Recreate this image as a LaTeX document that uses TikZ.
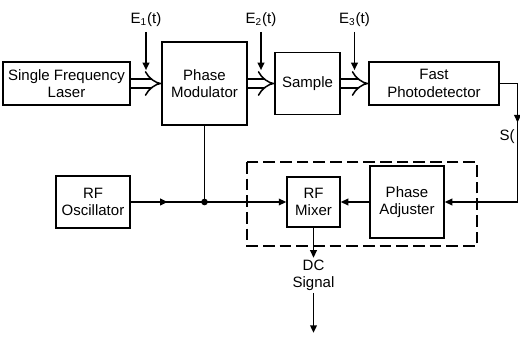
\documentclass[tikz,border=0pt]{standalone}
\usepackage{fontspec}
\setmainfont{Liberation Sans}
\usetikzlibrary{arrows.meta, positioning, calc}

\begin{document}
\begin{tikzpicture}[
            block/.style ={rectangle, draw, line width=0.9pt, align=center, inner sep=1pt,
                           font=\fontsize{9}{10.5}\selectfont},
            lbl/.style   ={inner sep=1pt, align=center, font=\fontsize{9}{10.5}\selectfont},
            wire/.style  ={line width=0.9pt},
            arr/.style   ={-{Triangle[length=4.5pt, width=4pt]}, line width=0.9pt},
            dblarr/.style={double, double distance=4.4pt, line width=0.9pt, -{Implies[scale=2.2]}}
        ]
            \useasboundingbox (0,0) rectangle (312pt,-202.2pt);

            \node[block, minimum width=76.2pt, minimum height=25.8pt] (laser) at (39.9pt,-50.1pt) {Single Frequency\\Laser};
            \node[block, minimum width=51pt, minimum height=49.8pt, right=18.3pt of laser]  (pm)     {Phase\\Modulator};
            \node[block, minimum width=39pt, minimum height=37.2pt, right=15.9pt of pm]     (sample) {Sample};
            \node[block, minimum width=78pt, minimum height=25.8pt, right=16.5pt of sample] (det)    {Fast\\Photodetector};

            \node[block, minimum width=31.8pt, minimum height=30pt] (mixer) at (188.1pt,-121.2pt) {RF\\Mixer};
            \node[block, minimum width=44.4pt, minimum height=43.2pt, right=17.1pt of mixer] (padj)  {Phase\\Adjuster};
            \node[block, minimum width=44.4pt, minimum height=31.2pt, left=93.3pt of mixer]  (osc)   {RF\\Oscillator};

            \draw[wire, dash pattern=on 7pt off 3pt] (148.2pt,-97.2pt) rectangle (286.2pt,-147.6pt);

            \coordinate (m1) at ($(laser.east)!0.5!(pm.west)$);
            \coordinate (m2) at ($(pm.east)!0.5!(sample.west)$);
            \coordinate (m3) at ($(sample.east)!0.5!(det.west)$);
            \node[lbl, above=33pt of m1] (e1) {E\textsubscript{1}(t)};
            \node[lbl, above=33pt of m2] (e2) {E\textsubscript{2}(t)};
            \node[lbl, above=33pt of m3] (e3) {E\textsubscript{3}(t)};

            \draw[dblarr] (laser)  -- (pm);
            \draw[dblarr] (pm)     -- (sample);
            \draw[dblarr] (sample) -- (det);

            \draw[arr, shorten <=2pt] (e1) -- ($(m1)+(0,8pt)$);
            \draw[arr, shorten <=2pt] (e2) -- ($(m2)+(0,8pt)$);
            \draw[arr, shorten <=2pt] (e3) -- ($(m3)+(0,8pt)$);

            \coordinate (rx) at (310.5pt,0);
            \coordinate (sr) at (det.east -| rx);
            \coordinate (sb) at (sr |- padj.east);
            \draw[wire] (det.east) -- (sr) -- (sb);
            \draw[arr]  (sr) -- ++(0,-23.4pt);
            \draw[arr]  (sb) -- (padj.east);
            \node[lbl, anchor=east] (s) at ($(sr)+(-0.5pt,-31.8pt)$) {S(};

            \coordinate (jn) at (pm.south |- osc.east);
            \draw[wire] (pm.south) -- (jn);
            \draw[wire] (osc.east) -- (jn);
            \fill (jn) circle (2pt);
            \draw[arr]  (osc.east) -- ($(osc.east)!0.5!(jn)$);
            \draw[arr]  (jn)   -- (mixer.west);
            \draw[arr]  (padj) -- (mixer);

            \node[lbl, below=18pt of mixer] (dc) {DC\\Signal};
            \coordinate[below=24pt of dc] (out);
            \draw[arr] (mixer) -- (dc);
            \draw[arr] (dc)    -- (out);
        \end{tikzpicture}
\end{document}
